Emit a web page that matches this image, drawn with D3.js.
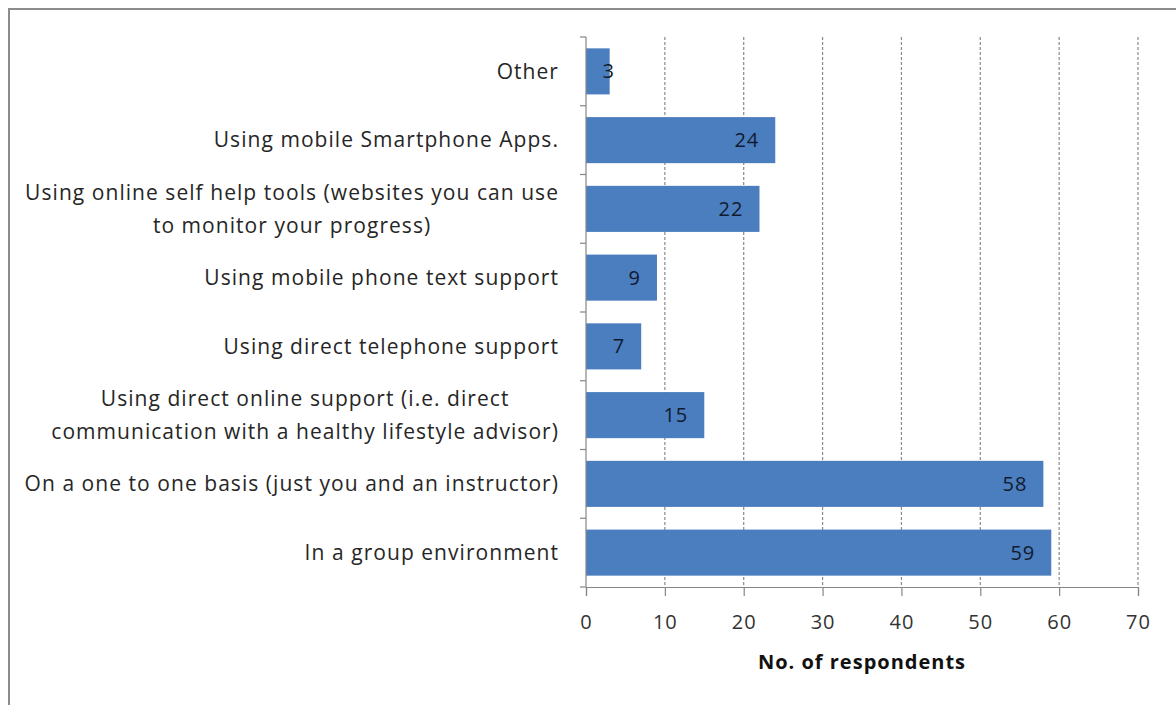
<!DOCTYPE html>
<html>
<head>
<meta charset="utf-8">
<script src="https://cdn.jsdelivr.net/npm/d3@7"></script>
<style>
  html, body { margin: 0; padding: 0; background: #fff; }
  svg { display: block; }
  text { font-family: "Open Sans", "DejaVu Sans", sans-serif; }
</style>
</head>
<body>
<svg id="chart" width="1176" height="705"></svg>
<script>
// Survey answers: preferred ways of receiving healthy-lifestyle support
const categories = [
  ["Other"],
  ["Using mobile Smartphone Apps."],
  ["Using online self help tools (websites you can use", "to monitor your progress)"],
  ["Using mobile phone text support"],
  ["Using direct telephone support"],
  ["Using direct online support (i.e. direct", "communication with a healthy lifestyle advisor)"],
  ["On a one to one basis (just you and an instructor)"],
  ["In a group environment"]
];
const respondents = [3, 24, 22, 9, 7, 15, 58, 59];
const xTicks = [0, 10, 20, 30, 40, 50, 60, 70];
const xTitle = "No. of respondents";

const svg = d3.select("#chart");
const W = 1176, H = 705;
const plotL = 586, plotR = 1138, plotT = 37, plotB = 587;
const fontStack = "\"Open Sans\", \"DejaVu Sans\", sans-serif";

// outer frame
svg.append("rect")
  .attr("x", 9).attr("y", 9)
  .attr("width", W + 20).attr("height", H + 20)
  .attr("fill", "none").attr("stroke", "#8c8c8c").attr("stroke-width", 2);

const x = d3.scaleLinear().domain([0, 70]).range([plotL, plotR]);
const y = d3.scaleBand().domain(d3.range(categories.length)).range([plotT, plotB]).paddingInner(0.33).paddingOuter(0.165);
const yStep = y.step();

// dashed vertical gridlines
svg.append("g").selectAll("line")
  .data(xTicks.filter(d => d > 0))
  .join("line")
  .attr("x1", d => x(d)).attr("x2", d => x(d))
  .attr("y1", plotT).attr("y2", plotB)
  .attr("stroke", "#8a8a8a").attr("stroke-width", 1.2)
  .attr("stroke-dasharray", "3,2");

// bars
svg.append("g").selectAll("rect")
  .data(respondents)
  .join("rect")
  .attr("x", x(0))
  .attr("y", (d, i) => y(i))
  .attr("width", d => x(d) - x(0))
  .attr("height", y.bandwidth())
  .attr("fill", "#4a7ebf");

// bottom axis
const xAxis = svg.append("g")
  .attr("transform", `translate(0,${plotB})`)
  .call(d3.axisBottom(x).tickValues(xTicks).tickSize(9).tickPadding(19).tickFormat(d3.format("d")));
xAxis.select(".domain").attr("stroke", "#868686").attr("stroke-width", 1.2);
xAxis.selectAll(".tick line").attr("stroke", "#868686").attr("stroke-width", 1.2);
xAxis.selectAll(".tick text")
  .attr("font-size", 20).attr("fill", "#333")
  .style("font-family", fontStack)
  .style("letter-spacing", "1px");

// left axis line with category separator ticks
svg.append("line")
  .attr("x1", plotL).attr("x2", plotL).attr("y1", plotT).attr("y2", plotB)
  .attr("stroke", "#868686").attr("stroke-width", 1.2);
svg.append("g").selectAll("line")
  .data(d3.range(categories.length + 1))
  .join("line")
  .attr("x1", plotL - 6).attr("x2", plotL)
  .attr("y1", i => plotT + i * yStep).attr("y2", i => plotT + i * yStep)
  .attr("stroke", "#868686").attr("stroke-width", 1.2);

// category labels (multi-line blocks are centred on their widest line)
const labelRight = 559;
const lineGap = 33;
const catG = svg.append("g");
categories.forEach((lines, i) => {
  const cy = y(i) + y.bandwidth() / 2;
  const t = catG.append("text")
    .attr("font-size", 21).attr("fill", "#262626")
    .style("letter-spacing", "1.05px")
    .attr("text-anchor", "middle");
  lines.forEach((ln, j) => {
    t.append("tspan").text(ln)
      .attr("y", cy + (j - (lines.length - 1) / 2) * lineGap)
      .attr("dy", "0.35em");
  });
  const widths = [];
  t.selectAll("tspan").each(function () { widths.push(this.getComputedTextLength()); });
  const maxW = d3.max(widths);
  t.selectAll("tspan").attr("x", labelRight - maxW / 2);
});

// value labels inside bar ends
svg.append("g").selectAll("text")
  .data(respondents)
  .join("text")
  .attr("x", d => Math.max(x(d) - 16, x(0) + 29))
  .attr("y", (d, i) => y(i) + y.bandwidth() / 2)
  .attr("dy", "0.35em")
  .attr("text-anchor", "end")
  .attr("font-size", 20).attr("fill", "#111a2e")
  .style("letter-spacing", "1px")
  .text(d => d);

// axis title
svg.append("text")
  .attr("x", (plotL + plotR) / 2).attr("y", 662)
  .attr("dy", "0.35em")
  .attr("text-anchor", "middle")
  .attr("font-size", 20).attr("font-weight", "bold").attr("fill", "#111")
  .style("letter-spacing", "1px")
  .text(xTitle);
</script>
</body>
</html>
